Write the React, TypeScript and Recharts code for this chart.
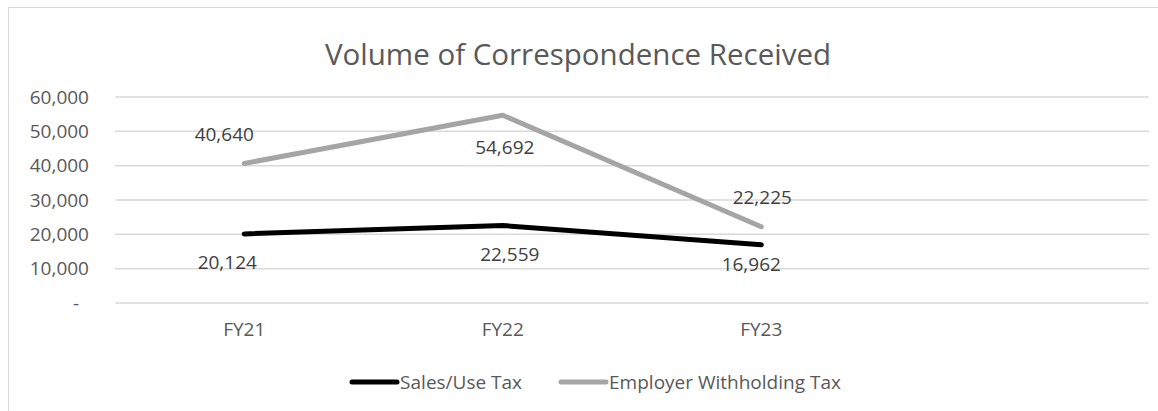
import React from "react";
import { LineChart, Line, XAxis, YAxis, CartesianGrid, Legend, LabelList } from "recharts";

const categories = ["FY21", "FY22", "FY23", ""];
const salesUseTax = [20124, 22559, 16962, null];
const employerWithholding = [40640, 54692, 22225, null];
const seriesNames = ["Sales/Use Tax", "Employer Withholding Tax"];
const yTicks = [0, 10000, 20000, 30000, 40000, 50000, 60000];

const data = categories.map((fy, i) => ({
  fy,
  sales: salesUseTax[i],
  employer: employerWithholding[i],
}));

// hand nudges for the data labels, like the original where they were dragged around
const salesLabelShift = [[-17, 28], [7, 28], [-10, 19]];
const employerLabelShift = [[-20, -29], [2, 32], [1, -30]];

const FONT = "'Open Sans', sans-serif";
const TEXT = "#595959";
const GRID = "#d9d9d9";

function fmt(v: number) {
  if (v === 0) return "-\u00a0\u00a0";
  return v.toLocaleString("en-US");
}

function makeLabel(shift: number[][]) {
  return (props: any) => {
    const x = props.x ?? props.viewBox?.x;
    const y = props.y ?? props.viewBox?.y;
    const { value, index } = props;
    if (value == null || x == null || !shift[index]) return null;
    const [dx, dy] = shift[index];
    return (
      <text
        x={x + dx}
        y={y + dy + 7}
        textAnchor="middle"
        fontFamily={FONT}
        fontSize={19}
        fill="#404040"
      >
        {Number(value).toLocaleString("en-US")}
      </text>
    );
  };
}

function LegendContent(props: any) {
  const items = [...(props.payload || [])].sort(
    (a: any, b: any) => seriesNames.indexOf(a.value) - seriesNames.indexOf(b.value)
  );
  return (
    <div
      style={{
        display: "flex",
        justifyContent: "center",
        alignItems: "center",
        gap: 36,
        paddingLeft: 32,
        fontFamily: FONT,
        fontSize: 19,
        color: TEXT,
      }}
    >
      {items.map((it: any) => (
        <div key={it.value} style={{ display: "flex", alignItems: "center" }}>
          <svg width={51} height={10}>
            <line x1={3} y1={5} x2={48} y2={5} stroke={it.color} strokeWidth={5} strokeLinecap="round" />
          </svg>
          <span>{it.value}</span>
        </div>
      ))}
    </div>
  );
}

export default function App() {
  return (
    <div
      style={{
        position: "absolute",
        left: 0,
        top: 0,
        width: 1158,
        height: 411,
        overflow: "hidden",
        background: "#fff",
      }}
    >
      <div
        style={{
          position: "absolute",
          left: 8,
          top: 7,
          width: 1200,
          height: 500,
          border: `1px solid ${GRID}`,
        }}
      />
      <svg style={{ position: "absolute", left: 0, top: 0 }} width={1158} height={80}>
        <text x={578} y={65} textAnchor="middle" fontFamily={FONT} fontSize={29.5} fill={TEXT}>
          Volume of Correspondence Received
        </text>
      </svg>
      <div style={{ position: "absolute", left: 0, top: 0 }}>
        <LineChart
          width={1158}
          height={411}
          data={data}
          margin={{ top: 97, right: 9, bottom: 78, left: 35 }}
        >
          <CartesianGrid vertical={false} stroke={GRID} strokeWidth={1.5} />
          <XAxis
            dataKey="fy"
            scale="band"
            height={30}
            axisLine={false}
            tickLine={false}
            tickSize={6}
            tickMargin={14}
            tick={{ fontSize: 19, fill: TEXT, fontFamily: FONT }}
            interval={0}
          />
          <YAxis
            width={80}
            domain={[0, 60000]}
            ticks={yTicks}
            tickFormatter={fmt}
            axisLine={false}
            tickLine={false}
            tickSize={6}
            tickMargin={20}
            tick={{ fontSize: 19, fill: TEXT, fontFamily: FONT }}
          />
          <Legend
            layout="horizontal"
            verticalAlign="middle"
            align="center"
            wrapperStyle={{ position: "absolute", top: 369, left: 0, width: 1158 }}
            content={LegendContent}
          />
          <Line
            dataKey="sales"
            name={seriesNames[0]}
            stroke="#000000"
            strokeWidth={5}
            strokeLinecap="round"
            strokeLinejoin="round"
            dot={false}
            activeDot={false}
            isAnimationActive={false}
          >
            <LabelList dataKey="sales" content={makeLabel(salesLabelShift)} />
          </Line>
          <Line
            dataKey="employer"
            name={seriesNames[1]}
            stroke="#a5a5a5"
            strokeWidth={5}
            strokeLinecap="round"
            strokeLinejoin="round"
            dot={false}
            activeDot={false}
            isAnimationActive={false}
          >
            <LabelList dataKey="employer" content={makeLabel(employerLabelShift)} />
          </Line>
        </LineChart>
      </div>
    </div>
  );
}
